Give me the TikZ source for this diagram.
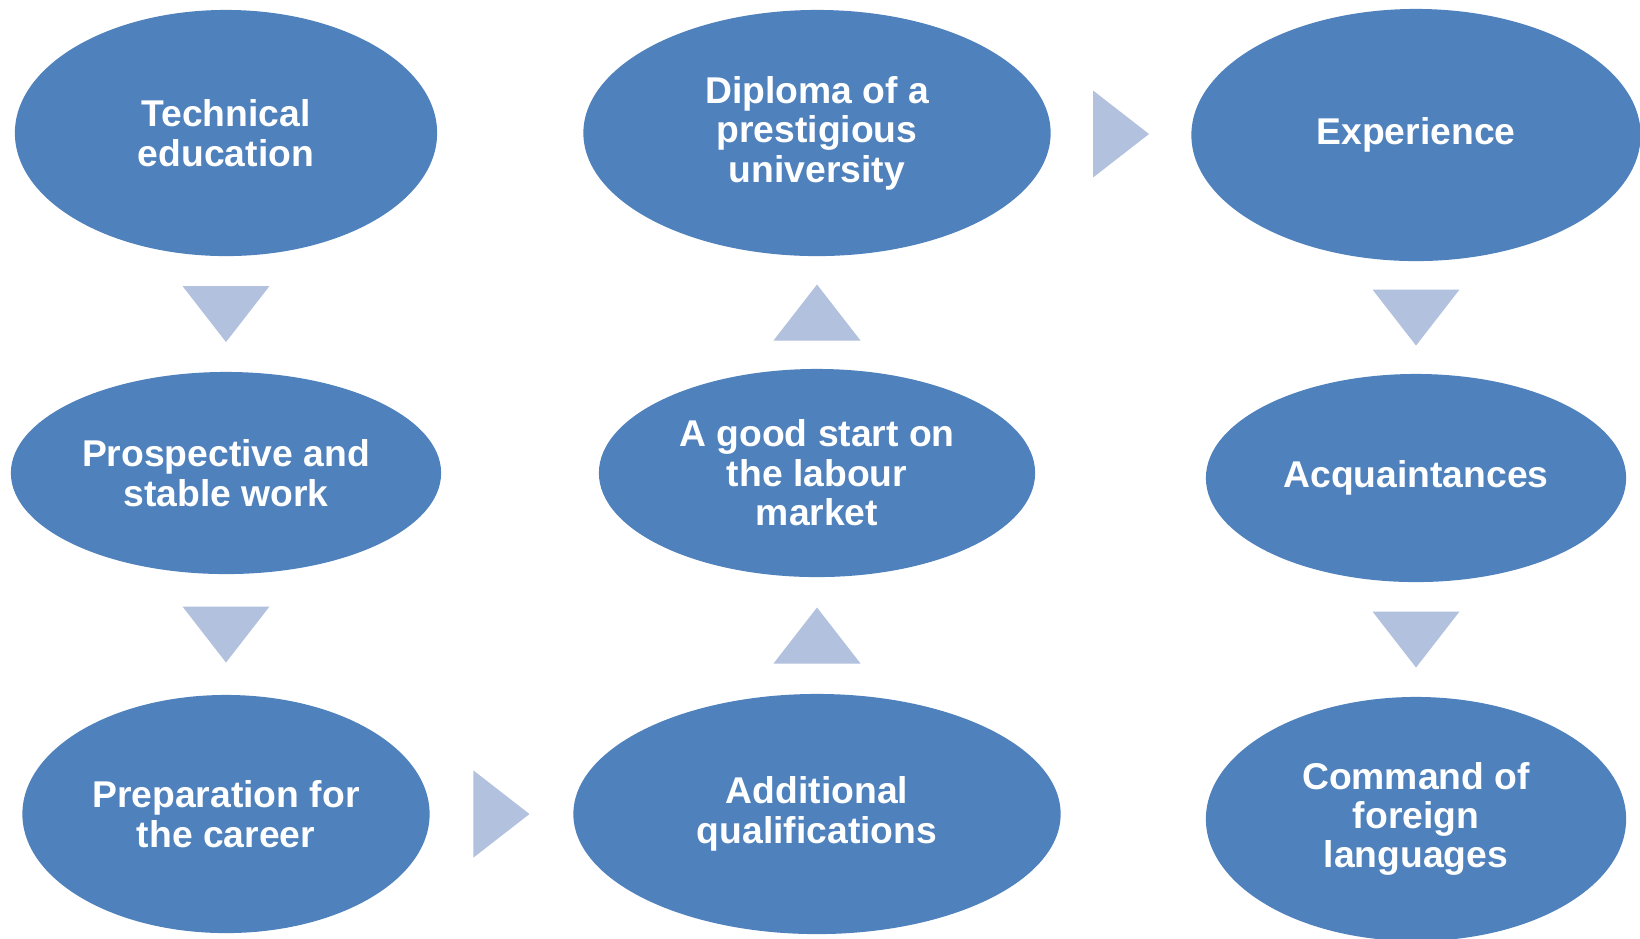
\documentclass[tikz,border=0pt]{standalone}
\usepackage{fontspec}
\setmainfont{Liberation Sans}
\usetikzlibrary{shapes,calc}
\definecolor{ovalblue}{RGB}{79,129,189}
\definecolor{pointerblue}{RGB}{178,193,221}
\tikzstyle{oval}=[ellipse,fill=ovalblue,inner sep=0pt,text=white,align=center,font=\bfseries\fontsize{10.6}{11.2}\selectfont]
\tikzstyle{pointer}=[fill=pointerblue]

\begin{document}
\begin{tikzpicture}[x=0.01cm,y=-0.01cm]
    \useasboundingbox[fill=white] (0,0) rectangle (1640,938);

    \foreach \pos/ \name/\w/\h/\txt in {{(226,133)/tech/4.22/2.46/{Technical\\education}},
        {(226,473)/work/4.30/2.02/{Prospective and\\stable work}},
        {(226,814)/prep/4.07/2.38/{Preparation for\\the career}},
        {(817,133)/dipl/4.67/2.46/{Diploma of a\\prestigious\\university}},
        {(817,473)/start/4.36/2.08/{A good start on\\the labour\\market}},
        {(817,814)/addq/4.87/2.40/{Additional\\qualifications}},
        {(1416,135)/exper/4.49/2.52/{Experience}},
        {(1416,478)/acq/4.20/2.08/{Acquaintances}},
        {(1416,819)/lang/4.20/2.44/{Command of\\foreign\\languages}}}
        \node[oval,minimum width=\w cm,minimum height=\h cm] (\name) at \pos {\txt};

    % pointers between the ovals
    \foreach \source/ \dest in {tech/work, work/prep, exper/acq, acq/lang}
        \fill[pointer] ($(\source.south)!0.5!(\dest.north)$) ++(-43.5,-28) -- ++(87,0) -- ++(-43.5,56) -- cycle;
    \foreach \source/ \dest in {addq/start, start/dipl}
        \fill[pointer] ($(\source.north)!0.5!(\dest.south)$) ++(-43.5,28) -- ++(87,0) -- ++(-43.5,-56) -- cycle;
    \foreach \source/ \dest in {prep/addq, dipl/exper}
        \fill[pointer] ($(\source.east)!0.5!(\dest.west)$) ++(-28,-43.5) -- ++(0,87) -- ++(56,-43.5) -- cycle;

\end{tikzpicture}
\end{document}
